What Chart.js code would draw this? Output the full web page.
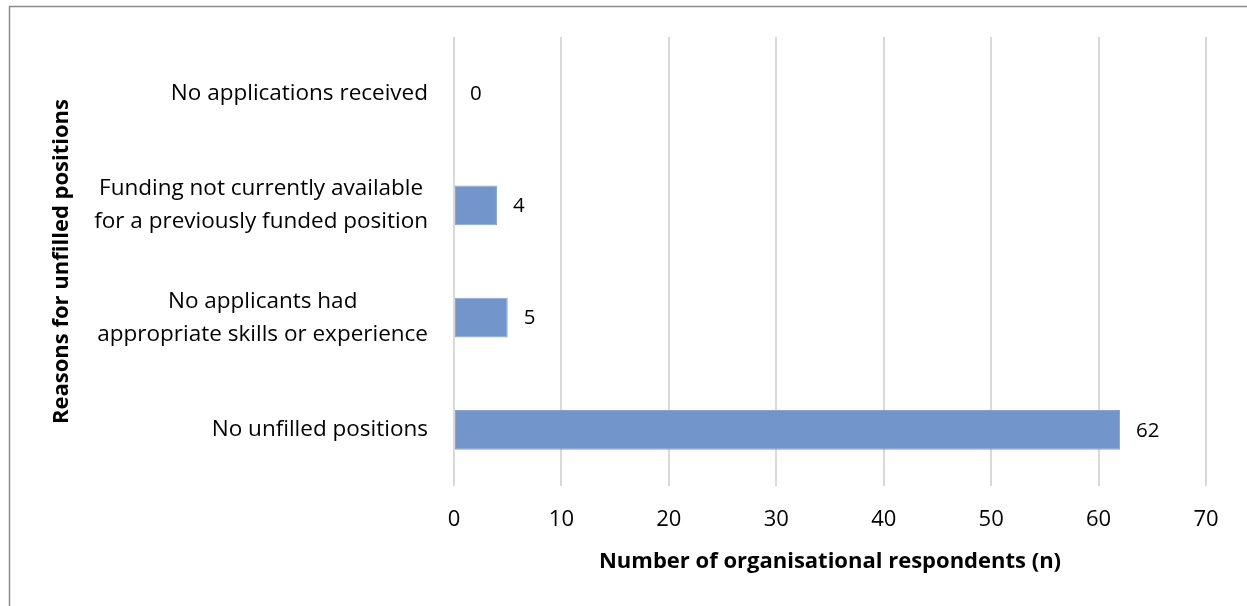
<!DOCTYPE html>
<html>
<head>
<meta charset="utf-8">
<script src="https://cdn.jsdelivr.net/npm/chart.js@4.4.0/dist/chart.umd.min.js"></script>
<style>
  html, body { margin: 0; padding: 0; background: #fff; overflow: hidden; }
  #wrap { position: relative; width: 1247px; height: 606px; }
</style>
</head>
<body>
<div id="wrap"><canvas id="chart"></canvas></div>
<script>
const categories = [
  ["No applications received"],
  ["Funding not currently available", "for a previously funded position"],
  ["No applicants had", "appropriate skills or experience"],
  ["No unfilled positions"]
];
const counts = [0, 4, 5, 62];
const xTickValues = [0, 10, 20, 30, 40, 50, 60, 70];
const xTitle = "Number of organisational respondents (n)";
const yTitle = "Reasons for unfilled positions";

const FONT = "'Open Sans', sans-serif";
const INK = "#000";

// grey frame round the whole picture
const framePlugin = {
  id: "frame",
  beforeDraw(chart) {
    const ctx = chart.ctx;
    ctx.save();
    ctx.strokeStyle = "#8c8c8c";
    ctx.lineWidth = 1.5;
    ctx.strokeRect(9.5, 6.5, chart.width + 20, chart.height + 20);
    ctx.restore();
  }
};

// category names: block right aligned, lines centred inside it
const categoryLabels = {
  id: "categoryLabels",
  afterDraw(chart) {
    const ctx = chart.ctx;
    const yScale = chart.scales.y;
    const rightEdge = chart.chartArea.left - 26;
    const lineGap = 33;
    ctx.save();
    ctx.font = "22.5px " + FONT;
    ctx.fillStyle = INK;
    ctx.textAlign = "center";
    ctx.textBaseline = "middle";
    categories.forEach((lines, i) => {
      const y = yScale.getPixelForValue(i);
      const widest = Math.max(...lines.map((l) => ctx.measureText(l).width));
      const cx = rightEdge - widest / 2;
      const start = y - (lines.length - 1) * lineGap / 2;
      lines.forEach((line, k) => ctx.fillText(line, cx, start + k * lineGap));
    });
    ctx.restore();
  }
};

// value labels just past the end of each bar
const valueLabels = {
  id: "valueLabels",
  afterDatasetsDraw(chart) {
    const ctx = chart.ctx;
    const meta = chart.getDatasetMeta(0);
    ctx.save();
    ctx.font = "20.5px " + FONT;
    ctx.fillStyle = INK;
    ctx.textAlign = "left";
    ctx.textBaseline = "middle";
    meta.data.forEach((bar, i) => {
      ctx.fillText(String(counts[i]), bar.x + 16, bar.y + 1);
    });
    ctx.restore();
  }
};

new Chart(document.getElementById("chart"), {
  type: "bar",
  data: {
    labels: categories.map((c) => c.join(" ")),
    datasets: [{
      data: counts,
      backgroundColor: "#7296cc",
      borderColor: "#86a5d4",
      borderWidth: 1,
      borderSkipped: false,
      barPercentage: 0.356,
      categoryPercentage: 1
    }]
  },
  options: {
    indexAxis: "y",
    responsive: true,
    maintainAspectRatio: false,
    animation: false,
    layout: { padding: { left: 40, top: 37, right: 41, bottom: 0 } },
    plugins: { legend: { display: false }, tooltip: { enabled: false } },
    scales: {
      x: {
        min: xTickValues[0],
        max: xTickValues[xTickValues.length - 1],
        afterBuildTicks(scale) {
          scale.ticks = xTickValues.map((v) => ({ value: v }));
        },
        afterFit(scale) { scale.height = 120; },
        grid: { color: "#d9d9d9", lineWidth: 2, drawTicks: false },
        border: { display: false },
        ticks: { color: INK, font: { family: FONT, size: 22 }, padding: 21, maxRotation: 0 },
        title: {
          display: true,
          text: xTitle,
          color: INK,
          font: { family: FONT, size: 22, weight: "bold" },
          padding: { top: 0, bottom: 31 }
        }
      },
      y: {
        afterFit(scale) { scale.width = 414; },
        grid: { display: false },
        border: { display: false },
        ticks: { display: false },
        title: {
          display: true,
          text: yTitle,
          color: INK,
          font: { family: FONT, size: 22, weight: "bold" },
          padding: { top: 9, bottom: 0 }
        }
      }
    }
  },
  plugins: [framePlugin, categoryLabels, valueLabels]
});
</script>
</body>
</html>
